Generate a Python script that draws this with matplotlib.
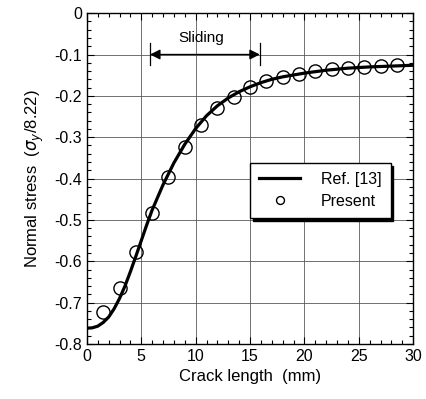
import matplotlib.pyplot as plt
from matplotlib.ticker import MultipleLocator

plt.rcParams['font.family'] = ['Liberation Sans', 'DejaVu Sans']

# Ref. [13] curve
ref_x = [0, 0.5, 1, 1.5, 2, 2.5, 3, 3.5, 4, 4.5, 5, 5.5, 6, 7, 8, 9, 10, 11, 12,
         13, 14, 15, 16, 17, 18, 20, 22, 24, 26, 28, 30]
ref_y = [-0.762, -0.761, -0.757, -0.748, -0.735, -0.715, -0.69, -0.66, -0.625,
         -0.588, -0.55, -0.512, -0.476, -0.415, -0.362, -0.317, -0.279, -0.248,
         -0.224, -0.205, -0.19, -0.178, -0.168, -0.16, -0.154, -0.145, -0.138,
         -0.133, -0.13, -0.128, -0.126]

# Present results
pres_x = [1.5, 3.0, 4.5, 6.0, 7.5, 9.0, 10.5, 12.0, 13.5, 15.0, 16.5, 18.0,
          19.5, 21.0, 22.5, 24.0, 25.5, 27.0, 28.5]
pres_y = [-0.722, -0.664, -0.577, -0.483, -0.396, -0.324, -0.271, -0.229,
          -0.203, -0.179, -0.164, -0.155, -0.147, -0.140, -0.135, -0.132,
          -0.130, -0.127, -0.125]

fig = plt.figure(figsize=(4.26, 3.99), dpi=100)
ax = fig.add_axes([0.204, 0.138, 0.766, 0.829])

ax.plot(ref_x, ref_y, color='black', lw=2.3, label='Ref. [13]', zorder=3)
ax.plot(pres_x, pres_y, 'o', mfc='none', mec='black', ms=9.5, mew=1.0,
        label='Present', zorder=4)

ax.set_xlim(0, 30)
ax.set_ylim(-0.8, 0)
ax.xaxis.set_major_locator(MultipleLocator(5))
ax.xaxis.set_minor_locator(MultipleLocator(1))
ax.yaxis.set_major_locator(MultipleLocator(0.1))
ax.yaxis.set_minor_locator(MultipleLocator(0.02))
ax.set_yticks([0, -0.1, -0.2, -0.3, -0.4, -0.5, -0.6, -0.7, -0.8])
ax.set_yticklabels(['0', '-0.1', '-0.2', '-0.3', '-0.4', '-0.5', '-0.6', '-0.7', '-0.8'])
ax.tick_params(which='both', direction='in', top=True, right=True, labelsize=11.5)
ax.tick_params(which='major', length=5, width=0.8)
ax.tick_params(which='minor', length=3, width=0.8)
ax.grid(True, which='major', color='0.35', lw=0.6)
for s in ax.spines.values():
    s.set_linewidth(1.0)

ax.set_xlabel('Crack length  (mm)', fontsize=12, labelpad=4)
ax.set_ylabel(r'Normal stress  ($\sigma_y$/8.22)', fontsize=12, labelpad=6)

# sliding zone
ax.annotate('', xy=(5.8, -0.1), xytext=(15.9, -0.1),
            arrowprops=dict(arrowstyle='<|-|>', color='black', lw=1.0,
                            mutation_scale=15, shrinkA=0, shrinkB=0), zorder=5)
ax.plot([5.8, 5.8], [-0.073, -0.125], color='black', lw=0.9, zorder=5)
ax.plot([15.9, 15.9], [-0.073, -0.125], color='black', lw=0.9, zorder=5)
ax.text(10.5, -0.061, 'Sliding', fontsize=11, ha='center', va='center')

leg = ax.legend(loc='upper left', bbox_to_anchor=(0.5, 0.547), borderaxespad=0,
                fontsize=11.5, frameon=True, fancybox=False, edgecolor='black',
                framealpha=1, handlelength=2.6, handletextpad=1.3,
                markerscale=0.6, borderpad=0.55, labelspacing=0.45,
                shadow={'color': 'black', 'alpha': 1, 'ox': 2, 'oy': -2})
leg.get_frame().set_linewidth(1.0)

plt.savefig('out.png', dpi=100)
